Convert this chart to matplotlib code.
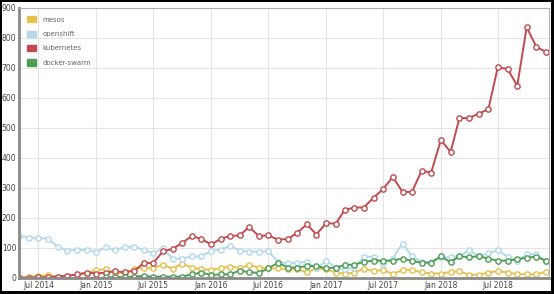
import pandas as pd
import matplotlib
matplotlib.use("Agg")
import matplotlib.pyplot as plt
import matplotlib.dates as mdates
from matplotlib.patches import Rectangle, Patch

months = pd.date_range("2014-05-01", periods=56, freq="MS")

mesos = [1, 3, 6, 8, 4, 7, 10, 14, 26, 28, 13, 16, 29, 32, 32, 44, 30, 47, 34, 28,
         26, 32, 37, 33, 42, 34, 31, 31, 28, 28, 18, 31, 28, 17, 14, 17, 30, 22, 26, 12,
         26, 26, 18, 14, 14, 19, 21, 10, 10, 17, 22, 17, 12, 11, 11, 20]
openshift = [140, 134, 132, 130, 103, 90, 93, 92, 86, 101, 92, 102, 104, 93, 81, 99, 62, 64, 71, 71,
             89, 94, 106, 90, 87, 87, 88, 53, 48, 50, 53, 31, 56, 34, 28, 34, 70, 69, 46, 64,
             114, 72, 53, 51, 68, 68, 72, 92, 72, 81, 92, 70, 56, 78, 78, 56]
kubernetes = [0, 0, 1, 2, 4, 6, 11, 17, 14, 17, 22, 18, 23, 49, 49, 88, 96, 116, 139, 129,
              111, 130, 139, 141, 169, 139, 141, 127, 129, 150, 178, 144, 182, 180, 226, 234, 234, 267, 295, 336,
              286, 286, 357, 350, 459, 419, 532, 532, 547, 561, 701, 696, 640, 835, 769, 753]
docker_swarm = [None] * 9 + [1, 2, 2, 4, 6, 3, 4, 3, 4, 11, 17,
                             9, 11, 11, 24, 18, 16, 31, 50, 34, 34, 39, 39, 31, 34, 42, 44, 53, 57, 57, 57,
                             64, 56, 50, 50, 72, 51, 72, 68, 72, 64, 57, 57, 61, 67, 70, 56]

series = [("mesos", mesos, "#e6c14f"),
          ("openshift", openshift, "#b3d9ec"),
          ("kubernetes", kubernetes, "#c24a4f"),
          ("docker-swarm", docker_swarm, "#4c9e53")]

fig = plt.figure(figsize=(5.54, 2.94), dpi=100, facecolor="white")
ax = fig.add_axes([19 / 554, 16.3 / 294, 530 / 554, 270 / 294])

for name, vals, col in series:
    s = pd.Series(vals, index=months, dtype=float)
    ax.plot(s.index, s.values, color=col, lw=1.4, marker="o", ms=3.8,
            mfc="white", mec=col, mew=1.0, label=name)

ax.set_ylim(0, 900)
ax.set_yticks(range(0, 901, 100))
ax.set_xlim(months[0] - pd.Timedelta(days=1), months[-1] + pd.Timedelta(days=10))
ax.xaxis.set_major_locator(mdates.MonthLocator(bymonth=[1, 7]))
ax.xaxis.set_major_formatter(mdates.DateFormatter("%b %Y"))

ax.grid(True, color="#e4e4e4", lw=0.8)
ax.set_axisbelow(True)
ax.tick_params(length=0, labelsize=5.5, labelcolor="#444444")
ax.tick_params(axis="y", pad=2.0)
ax.tick_params(axis="x", pad=2.5)

for side in ["top", "right"]:
    ax.spines[side].set_color("#b0b0b0")
    ax.spines[side].set_linewidth(0.8)
for side in ["left", "bottom"]:
    ax.spines[side].set_color("#8a8a8a")
    ax.spines[side].set_linewidth(2.0)

handles = [Patch(facecolor=c, edgecolor=c, label=n) for n, _, c in series]
leg = ax.legend(handles=handles, loc="upper left", frameon=False, fontsize=5,
                handlelength=1.2, handleheight=1.0, labelspacing=1.15,
                borderaxespad=0.8, handletextpad=1.0)
for t in leg.get_texts():
    t.set_color("#666666")

# black screenshot frame
for x, y, w, h in [(0, 0, 2, 294), (551, 0, 3, 294), (0, 0, 554, 2), (0, 291, 554, 3)]:
    fig.patches.append(Rectangle((x / 554, 1 - (y + h) / 294), w / 554, h / 294,
                                 transform=fig.transFigure, facecolor="black",
                                 edgecolor="none", zorder=10))

fig.savefig("out.png", dpi=100)
